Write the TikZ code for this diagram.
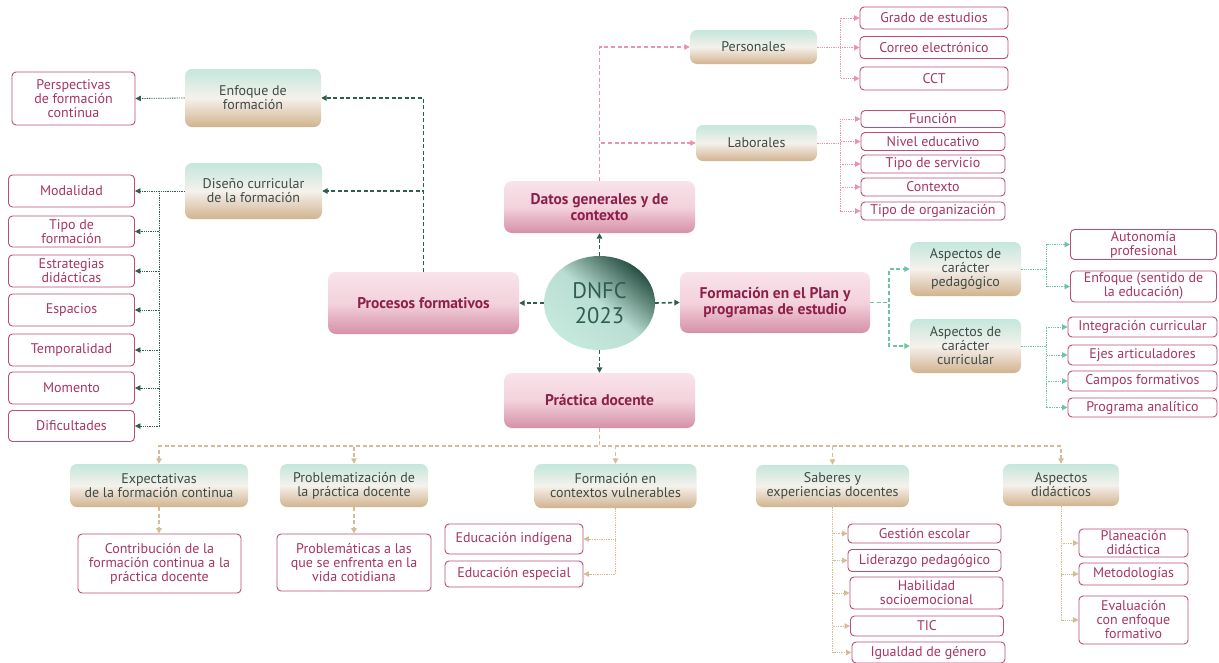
\documentclass[tikz,border=0pt]{standalone}
\usepackage{fontspec}
\setmainfont{PT Sans}
\usetikzlibrary{arrows.meta,shapes.geometric}
\definecolor{dkgreen}{HTML}{2F5D4F}
\definecolor{mintline}{HTML}{6CC4A4}
\definecolor{pinkline}{HTML}{EA92AE}
\definecolor{tanline}{HTML}{D5BC98}
\definecolor{leafdraw}{HTML}{BC4D78}
\definecolor{leaftext}{HTML}{A83563}
\definecolor{maintext}{HTML}{8E1F4A}
\definecolor{subtext}{HTML}{3D4B47}
\definecolor{mintc}{HTML}{C4E7DC}
\definecolor{creamc}{HTML}{F5F1EC}
\definecolor{tanc}{HTML}{D1B38E}
\definecolor{pinkl}{HTML}{F9E3EA}
\definecolor{pinkm}{HTML}{F3D2DC}
\definecolor{pinkd}{HTML}{D590A7}
\definecolor{ellc}{HTML}{C6E9DE}
\tikzset{
  base/.style={font=\fontsize{14}{14}\selectfont, align=center, inner sep=1pt},
  leaf/.style={base, draw=leafdraw, line width=0.9pt, rounded corners=4pt, fill=white, text=leaftext},
  sub/.style={base, rounded corners=7pt, top color=mintc, bottom color=tanc, middle color=creamc, text=subtext},
  main/.style={base, font=\fontsize{15.5}{16.5}\selectfont\bfseries, rounded corners=8pt, top color=pinkl, bottom color=pinkd, middle color=pinkm, text=maintext},
  tip/.style={-{Triangle[length=5.5pt,width=5.5pt]}},
  gdash/.style={tip, dkgreen, line width=1.6pt, dash pattern=on 4pt off 2.5pt},
  gdot/.style={tip, dkgreen, line width=0.8pt, dash pattern=on 1.3pt off 1pt},
  pdash/.style={tip, pinkline, line width=1.2pt, dash pattern=on 4pt off 2.6pt},
  pdot/.style={tip, pinkline, line width=0.8pt, dash pattern=on 1.3pt off 1pt},
  mdash/.style={tip, mintline, line width=1.2pt, dash pattern=on 4pt off 2.6pt},
  mdot/.style={tip, mintline, line width=0.8pt, dash pattern=on 1.3pt off 1pt},
  tdash/.style={tip, tanline, line width=1.4pt, dash pattern=on 4pt off 2.6pt},
  tdot/.style={tip, tanline, line width=0.8pt, dash pattern=on 1.3pt off 1pt}
}
\begin{document}
\begin{tikzpicture}[x=1pt,y=-1pt]
  \useasboundingbox (0,0) rectangle (1219,662);
  % centre
  \node (dnfc) [ellipse, minimum width=111pt, minimum height=94pt, inner sep=0pt, shading=axis, top color=dkgreen!85!black, bottom color=ellc, middle color=ellc!92!dkgreen, shading angle=-40, text=dkgreen, align=center, font=\fontsize{22.5}{25}\selectfont] at (599.5,303) {DNFC\\2023};
  \node (datos) [main, minimum width=191pt, minimum height=52pt] at (599.5,207) {Datos generales y de\\contexto};
  \node (proc) [main, minimum width=191pt, minimum height=62pt] at (423.5,303) {Procesos formativos};
  \node (form) [main, minimum width=190pt, minimum height=61pt] at (775,302.5) {Formación en el Plan y\\programas de estudio};
  \node (prac) [main, minimum width=191pt, minimum height=55pt] at (599.5,400.5) {Práctica docente};
  \draw [gdash] (dnfc.north) -- (datos.south);
  \draw [gdash] (dnfc.west) -- (proc.east);
  \draw [gdash] (dnfc.east) -- (form.west);
  \draw [gdash] (dnfc.south) -- (prac.north);
  % datos generales
  \node (pers) [sub, minimum width=127pt, minimum height=34pt] at (753.5,47) {Personales};
  \node (lab) [sub, minimum width=121pt, minimum height=36pt] at (756.5,143) {Laborales};
  \node (grado) [leaf, minimum width=148pt, minimum height=22pt] at (934,18) {Grado de estudios};
  \node (correo) [leaf, minimum width=148pt, minimum height=22pt] at (934,47.5) {Correo electrónico};
  \node (cct) [leaf, minimum width=148pt, minimum height=23pt] at (934,78.5) {CCT};
  \node (func) [leaf, minimum width=144pt, minimum height=17pt] at (933,119) {Función};
  \node (nivel) [leaf, minimum width=144pt, minimum height=18pt] at (933,141.5) {Nivel educativo};
  \node (tserv) [leaf, minimum width=144pt, minimum height=18pt] at (933,164) {Tipo de servicio};
  \node (ctx) [leaf, minimum width=144pt, minimum height=18pt] at (933,187) {Contexto};
  \node (torg) [leaf, minimum width=144pt, minimum height=18pt] at (933,211) {Tipo de organización};
  \coordinate (jp) at (840,47); \coordinate (jl) at (840,143);
  \draw [pdash] (datos.north) |- (pers.west);
  \draw [pdash] (datos.north) |- (lab.west);
  \foreach \n in {grado,correo,cct} \draw [pdot] (pers.east) -- (jp) |- (\n.west);
  \foreach \n in {func,nivel,tserv,ctx,torg} \draw [pdot] (lab.east) -- (jl) |- (\n.west);
  % procesos formativos
  \node (enf) [sub, minimum width=136pt, minimum height=58pt] at (253,98) {Enfoque de\\formación};
  \node (dis) [sub, minimum width=137pt, minimum height=56pt] at (253.5,191) {Diseño curricular\\de la formación};
  \node (persp) [leaf, minimum width=123pt, minimum height=53pt] at (73.5,98.5) {Perspectivas\\de formación\\continua};
  \node (modal) [leaf, minimum width=126pt, minimum height=32pt] at (71.5,191) {Modalidad};
  \node (tipof) [leaf, minimum width=126pt, minimum height=31pt] at (71.5,231.5) {Tipo de\\formación};
  \node (estr) [leaf, minimum width=126pt, minimum height=32pt] at (71.5,271) {Estrategias\\didácticas};
  \node (esp) [leaf, minimum width=126pt, minimum height=32pt] at (71.5,310) {Espacios};
  \node (temp) [leaf, minimum width=126pt, minimum height=32pt] at (71.5,350) {Temporalidad};
  \node (mom) [leaf, minimum width=126pt, minimum height=32pt] at (71.5,388) {Momento};
  \node (dif) [leaf, minimum width=126pt, minimum height=31pt] at (71.5,426) {Dificultades};
  \coordinate (jd) at (159,191);
  \draw [gdash] (proc.north) |- (enf.east);
  \draw [gdash] (proc.north) |- (dis.east);
  \draw [gdot] (enf.west) -- (persp.east);
  \foreach \n in {modal,tipof,estr,esp,temp,mom,dif} \draw [gdot] (dis.west) -- (jd) |- (\n.east);
  % formacion en el plan
  \node (asped) [sub, minimum width=111pt, minimum height=54pt] at (965.5,269) {Aspectos de\\carácter\\pedagógico};
  \node (ascur) [sub, minimum width=111pt, minimum height=54pt] at (965.5,346) {Aspectos de\\carácter\\curricular};
  \node (auton) [leaf, minimum width=146pt, minimum height=30pt] at (1143.5,244.5) {Autonomía\\profesional};
  \node (enfsent) [leaf, minimum width=146pt, minimum height=31pt] at (1143.5,286.5) {Enfoque (sentido de\\la educación)};
  \node (integ) [leaf, minimum width=149pt, minimum height=20pt] at (1142.5,327) {Integración curricular};
  \node (ejes) [leaf, minimum width=149pt, minimum height=20pt] at (1142.5,355) {Ejes articuladores};
  \node (campos) [leaf, minimum width=149pt, minimum height=20pt] at (1142.5,381) {Campos formativos};
  \node (prog) [leaf, minimum width=149pt, minimum height=19pt] at (1142.5,407.5) {Programa analítico};
  \coordinate (jf) at (889,302.5);
  \coordinate (jpd) at (1046,269); \coordinate (jcu) at (1046,346);
  \draw [mdash] (form.east) -- (jf) |- (asped.west);
  \draw [mdash] (form.east) -- (jf) |- (ascur.west);
  \foreach \n in {auton,enfsent} \draw [mdot] (asped.east) -- (jpd) |- (\n.west);
  \foreach \n in {integ,ejes,campos,prog} \draw [mdot] (ascur.east) -- (jcu) |- (\n.west);
  % practica docente
  \node (expe) [sub, minimum width=178pt, minimum height=43pt] at (159,485.5) {Expectativas\\de la formación continua};
  \node (probl) [sub, minimum width=148pt, minimum height=43pt] at (354,485.5) {Problematización de\\la práctica docente};
  \node (fcv) [sub, minimum width=162pt, minimum height=44pt] at (615.5,486) {Formación en\\contextos vulnerables};
  \node (sab) [sub, minimum width=153pt, minimum height=42pt] at (832.5,486) {Saberes y\\experiencias docentes};
  \node (adid) [sub, minimum width=116pt, minimum height=42pt] at (1061,485) {Aspectos\\didácticos};
  \coordinate (jb) at (599.5,446);
  \foreach \n in {expe,probl,fcv,sab,adid} \draw [tdash] (prac.south) -- (jb) -| (\n.north);
  \node (contr) [leaf, minimum width=163pt, minimum height=59pt] at (159.5,563.5) {Contribución de la\\formación continua a la\\práctica docente};
  \node (probs) [leaf, minimum width=154pt, minimum height=57pt] at (354,562.5) {Problemáticas a las\\que se enfrenta en la\\vida cotidiana};
  \node (eind) [leaf, minimum width=138pt, minimum height=30pt] at (514,539) {Educación indígena};
  \node (eesp) [leaf, minimum width=138pt, minimum height=26pt] at (514,574) {Educación especial};
  \node (gest) [leaf, minimum width=153pt, minimum height=19pt] at (924.5,533.5) {Gestión escolar};
  \node (lid) [leaf, minimum width=153pt, minimum height=22pt] at (924.5,560.5) {Liderazgo pedagógico};
  \node (hab) [leaf, minimum width=153pt, minimum height=32pt] at (926.5,593) {Habilidad\\socioemocional};
  \node (tic) [leaf, minimum width=153pt, minimum height=20pt] at (927,626) {TIC};
  \node (igual) [leaf, minimum width=153pt, minimum height=21pt] at (928.5,652.5) {Igualdad de género};
  \node (plan) [leaf, minimum width=109pt, minimum height=28pt] at (1133.5,543) {Planeación\\didáctica};
  \node (metod) [leaf, minimum width=109pt, minimum height=22pt] at (1133.5,574) {Metodologías};
  \node (eval) [leaf, minimum width=109pt, minimum height=48pt] at (1133.5,620) {Evaluación\\con enfoque\\formativo};
  \draw [tdash] (expe.south) -- (expe.south |- contr.north);
  \draw [tdash] (probl.south) -- (probl.south |- probs.north);
  \foreach \n in {eind,eesp} \draw [tdot] (fcv.south) |- (\n.east);
  \foreach \n in {gest,lid,hab,tic,igual} \draw [tdot] (sab.south) |- (\n.west);
  \foreach \n in {plan,metod,eval} \draw [tdot] (adid.south) |- (\n.west);
\end{tikzpicture}
\end{document}
